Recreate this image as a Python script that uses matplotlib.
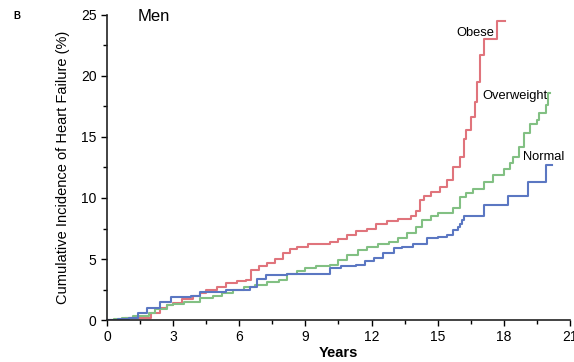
import numpy as np
import matplotlib
matplotlib.use("Agg")
import matplotlib.pyplot as plt
from matplotlib.ticker import MultipleLocator

plt.rcParams['font.family'] = ['Liberation Sans', 'DejaVu Sans']

# step curves: time of each step (years) and cumulative incidence after it (%)
obese_t = [0, 0.8, 1.6, 2.0, 2.4, 2.7, 3.0, 3.4, 3.9, 4.2, 4.5, 5.0, 5.4, 5.9, 6.3, 6.55,
           6.9, 7.25, 7.6, 8.0, 8.3, 8.6, 9.1, 10.1, 10.5, 10.9, 11.3, 11.8, 12.2, 12.7,
           13.2, 13.8, 14.0, 14.2, 14.4, 14.7, 15.1, 15.4, 15.7, 16.0, 16.2, 16.3, 16.5,
           16.7, 16.8, 16.9, 17.1, 17.7, 18.05]
obese_y = [0, 0.15, 0.2, 0.6, 1.0, 1.2, 1.4, 1.7, 2.0, 2.2, 2.45, 2.7, 3.0, 3.2, 3.3, 4.1,
           4.4, 4.7, 5.0, 5.5, 5.8, 6.0, 6.2, 6.4, 6.6, 7.0, 7.3, 7.5, 7.9, 8.1,
           8.3, 8.5, 8.9, 9.8, 10.2, 10.5, 10.9, 11.5, 12.5, 13.4, 14.8, 15.6, 16.6,
           17.9, 19.5, 21.7, 23.0, 24.5, 24.5]

over_t = [0, 0.3, 0.7, 1.2, 1.9, 2.2, 2.7, 3.0, 3.5, 4.2, 4.8, 5.2, 5.7, 6.2, 6.7, 7.25,
          7.8, 8.15, 8.6, 9.0, 9.5, 10.1, 10.5, 10.9, 11.4, 11.8, 12.3, 12.8, 13.2, 13.6,
          14.0, 14.3, 14.7, 15.0, 15.7, 16.0, 16.3, 16.6, 17.1, 17.5, 18.0, 18.3, 18.4,
          18.7, 18.9, 19.2, 19.5, 19.6, 19.9, 20.0, 20.1]
over_y = [0, 0.1, 0.2, 0.3, 0.6, 0.9, 1.2, 1.3, 1.5, 1.8, 2.0, 2.2, 2.5, 2.7, 2.9, 3.1,
          3.3, 3.8, 4.0, 4.3, 4.4, 4.5, 4.9, 5.3, 5.7, 6.0, 6.2, 6.4, 6.7, 7.1,
          7.6, 8.2, 8.5, 8.8, 9.2, 10.1, 10.4, 10.7, 11.3, 11.9, 12.4, 12.9, 13.4,
          14.2, 15.3, 16.1, 16.4, 17.0, 17.6, 18.6, 18.6]

norm_t = [0, 0.5, 1.0, 1.4, 1.8, 2.4, 2.9, 3.8, 4.2, 5.4, 6.5, 6.8, 7.2, 8.15, 9.7, 10.1,
          10.6, 11.3, 11.7, 12.1, 12.5, 13.0, 13.4, 13.9, 14.5, 15.0, 15.4, 15.7, 15.9,
          16.0, 16.1, 16.2, 17.1, 18.2, 19.1, 19.9, 20.2]
norm_y = [0, 0.1, 0.2, 0.55, 1.0, 1.5, 1.9, 2.0, 2.3, 2.45, 2.7, 3.4, 3.7, 3.8, 3.8, 4.3,
          4.4, 4.5, 4.8, 5.1, 5.5, 5.9, 6.0, 6.2, 6.7, 6.8, 7.0, 7.4, 7.6,
          7.9, 8.2, 8.5, 9.4, 10.2, 11.3, 12.7, 12.7]

groups = ["Obese", "Overweight", "Normal"]
colors = ['#e0747c', '#82c083', '#5b77c2']

xticks = [0, 3, 6, 9, 12, 15, 18, 21]
yticks = [0, 5, 10, 15, 20, 25]


def plotCurves():

    fig = plt.figure(figsize=(5.74, 3.62), dpi=100)
    ax = fig.add_axes([0.1864, 0.116, 0.8066, 0.8426])

    for t, y, c in zip([obese_t, over_t, norm_t], [obese_y, over_y, norm_y], colors):
        ax.plot(t, y, drawstyle='steps-post', color=c, linewidth=1.5)

    ax.text(17.55, 23.5, groups[0], ha='right', va='center', fontsize=9.3)
    ax.text(20.0, 18.4, groups[1], ha='right', va='center', fontsize=9.3)
    ax.text(19.8, 13.4, groups[2], ha='center', va='center', fontsize=9.3)
    ax.text(1.4, 24.9, "Men", ha='left', va='center', fontsize=12)
    fig.text(0.024, 0.955, "B", ha='left', va='center', fontsize=7, fontweight='bold')

    ax.set_xlim(0, 21)
    ax.set_ylim(0, 25)
    ax.set_xticks(xticks)
    ax.set_yticks(yticks)
    ax.xaxis.set_minor_locator(MultipleLocator(1.5))
    ax.yaxis.set_minor_locator(MultipleLocator(2.5))
    ax.tick_params(which='both', direction='out', length=4, width=1, labelsize=10)
    ax.tick_params(which='minor', length=3)
    for s in ['top', 'right']:
        ax.spines[s].set_visible(False)
    for s in ['left', 'bottom']:
        ax.spines[s].set_linewidth(1.2)
        ax.spines[s].set_color('#222222')

    ax.set_xlabel("Years", fontsize=10.5, fontweight='bold', labelpad=1)
    ax.set_ylabel("Cumulative Incidence of Heart Failure (%)", fontsize=10.5, labelpad=8)

    fig.savefig("out.png", dpi=100)


if __name__ == "__main__":
    plotCurves()
